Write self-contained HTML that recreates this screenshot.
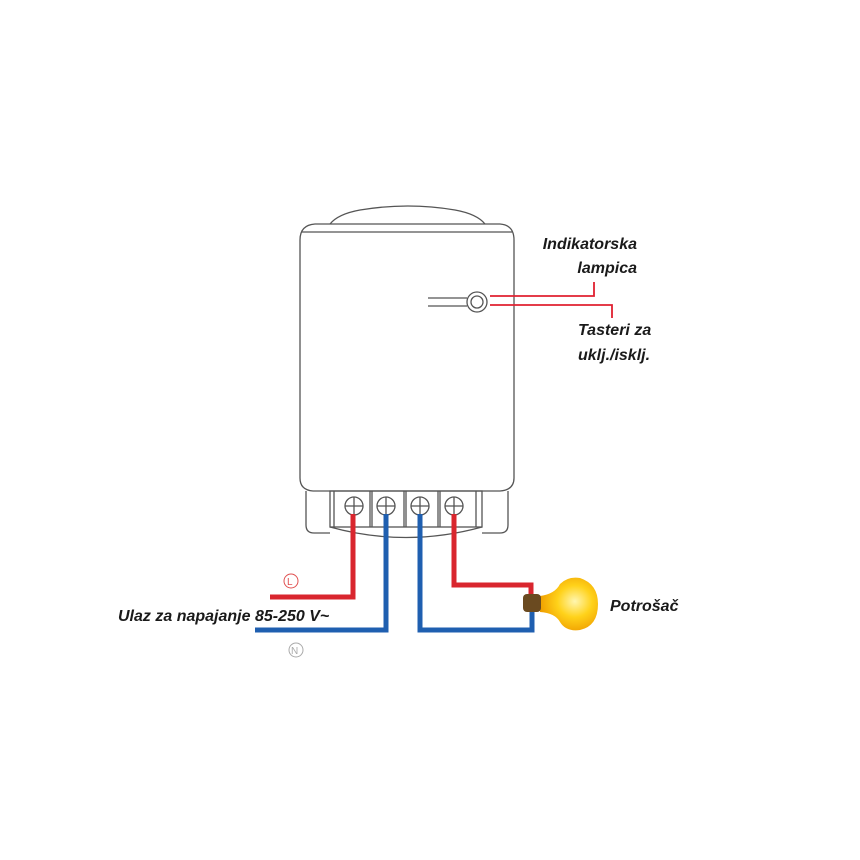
<!DOCTYPE html>
<html><head><style>
html,body{margin:0;padding:0;background:#fff;width:860px;height:860px;overflow:hidden}
text{font-family:"Liberation Sans",sans-serif;font-style:italic;font-weight:bold;font-size:16px;fill:#1a1a1a}
</style></head><body>
<svg width="860" height="860" viewBox="0 0 860 860" xmlns="http://www.w3.org/2000/svg">
<defs>
<radialGradient id="bulb" cx="0.6" cy="0.45" r="0.6">
<stop offset="0" stop-color="#fff6b0"/><stop offset="0.5" stop-color="#ffd21a"/><stop offset="1" stop-color="#f0a000"/>
</radialGradient>
</defs>
<g fill="none" stroke="#555" stroke-width="1.3">
<path d="M330 224 Q338 214 360 210 Q408 202 455 210 Q477 214 485 224"/>
<path d="M300 240 Q300 225 315 224 L500 224 Q514 225 514 240 L514 478 Q514 490 500 491 L313 491 Q300 490 300 478 Z"/>
<line x1="302" y1="232" x2="512" y2="232"/>
<path d="M306 491 L306 525 Q306 533 314 533 L330 533"/>
<path d="M508 491 L508 525 Q508 533 500 533 L482 533"/>
<rect x="330" y="491" width="152" height="36"/>
<line x1="334" y1="491" x2="334" y2="527"/>
<line x1="370" y1="491" x2="370" y2="527"/>
<line x1="372" y1="491" x2="372" y2="527"/>
<line x1="404" y1="491" x2="404" y2="527"/>
<line x1="406" y1="491" x2="406" y2="527"/>
<line x1="438" y1="491" x2="438" y2="527"/>
<line x1="440" y1="491" x2="440" y2="527"/>
<line x1="476" y1="491" x2="476" y2="527"/>
<path d="M330 527 Q406 548 482 527"/>
<circle cx="354" cy="506" r="9"/><path d="M345 506h18M354 497v18"/>
<circle cx="386" cy="506" r="9"/><path d="M377 506h18M386 497v18"/>
<circle cx="420" cy="506" r="9"/><path d="M411 506h18M420 497v18"/>
<circle cx="454" cy="506" r="9"/><path d="M445 506h18M454 497v18"/>
<circle cx="477" cy="302" r="10"/><circle cx="477" cy="302" r="6"/>
<line x1="428" y1="298" x2="467" y2="298"/><line x1="428" y1="306" x2="467" y2="306"/>
</g>
<g fill="none" stroke="#e02030" stroke-width="1.8">
<path d="M490 296 H594 V282"/>
<path d="M490 305 H612 V318"/>
</g>
<g fill="none" stroke-width="5" stroke-linejoin="miter">
<path stroke="#d9262e" d="M353 514 V597 H270"/>
<path stroke="#1f5fb0" d="M386 514 V630 H255"/>
<path stroke="#1f5fb0" d="M420 514 V630 H532 V603"/>
<path stroke="#d9262e" d="M454 514 V585 H531 V598"/>
</g>
<path d="M540 596 Q555 594 560 584 Q568 576 580 578 Q598 584 598 604 Q598 626 580 630 Q566 632 560 622 Q555 613 540 612 Z" fill="url(#bulb)"/>
<rect x="523" y="594" width="18" height="18" rx="4" fill="#6a4a20"/>
<circle cx="291" cy="581" r="7" fill="none" stroke="#e05050" stroke-width="1"/>
<text x="287" y="585" style="font-size:10px;font-style:normal;font-weight:normal;fill:#e05050">L</text>
<circle cx="296" cy="650" r="7" fill="none" stroke="#aaa" stroke-width="1"/>
<text x="291" y="654" style="font-size:10px;font-style:normal;font-weight:normal;fill:#aaa">N</text>
<text x="637" y="249" text-anchor="end">Indikatorska</text>
<text x="637" y="273" text-anchor="end">lampica</text>
<text x="578" y="335">Tasteri za</text>
<text x="578" y="360">uklj./isklj.</text>
<text x="118" y="621">Ulaz za napajanje 85-250 V~</text>
<text x="610" y="611">Potrošač</text>
</svg>
</body></html>
